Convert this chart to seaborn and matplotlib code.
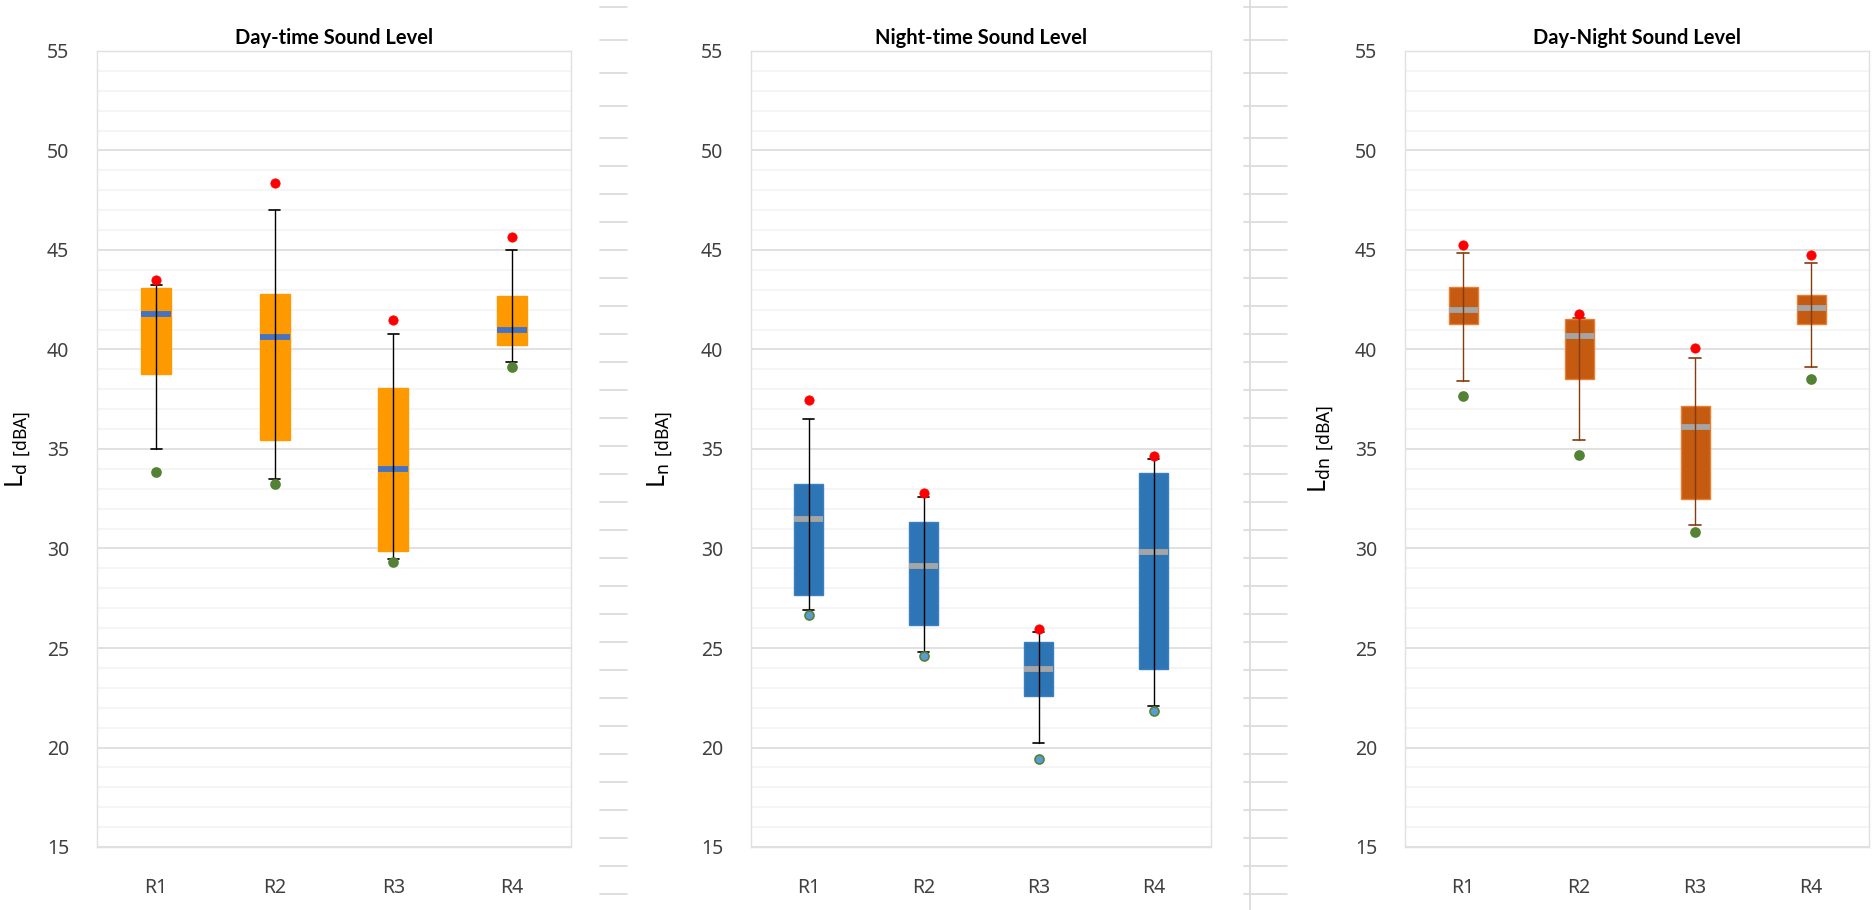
import numpy as np
import matplotlib.pyplot as plt
import seaborn as sns
from matplotlib.lines import Line2D
from matplotlib.ticker import MultipleLocator

# ==========================================
# Data (dBA)
# ==========================================
sites = ['R1', 'R2', 'R3', 'R4']

# Day-time sound level, Ld
ld_q1 = [38.78, 35.47, 29.88, 40.23]
ld_med = [41.78, 40.62, 34.00, 40.97]
ld_q3 = [43.08, 42.78, 38.07, 42.68]
ld_wlo = [35.00, 33.47, 29.45, 39.38]
ld_whi = [43.25, 47.02, 40.78, 45.00]
ld_max = [43.50, 48.38, 41.50, 45.65]
ld_min = [33.85, 33.22, 29.32, 39.12]

# Night-time sound level, Ln
ln_q1 = [27.68, 26.16, 22.60, 23.94]
ln_med = [31.48, 29.10, 23.94, 29.83]
ln_q3 = [33.22, 31.33, 25.30, 33.77]
ln_wlo = [26.90, 24.80, 20.22, 22.10]
ln_whi = [36.50, 32.60, 25.80, 34.50]
ln_max = [37.45, 32.78, 25.96, 34.67]
ln_min = [26.65, 24.60, 19.43, 21.85]

# Day-night sound level, Ldn
ldn_q1 = [41.26, 38.50, 32.50, 41.26]
ldn_med = [42.00, 40.70, 36.13, 42.07]
ldn_q3 = [43.13, 41.55, 37.16, 42.72]
ldn_wlo = [38.42, 35.45, 31.18, 39.10]
ldn_whi = [44.83, 41.60, 39.55, 44.34]
ldn_max = [45.27, 41.80, 40.08, 44.73]
ldn_min = [37.68, 34.72, 30.84, 38.52]

panels = [
    dict(title='Day-time Sound Level', sub='d',
         q1=ld_q1, med=ld_med, q3=ld_q3, wlo=ld_wlo, whi=ld_whi, mx=ld_max, mn=ld_min,
         box='#FF9900', edge='#FF9900', median='#4472C4', whisker='#000000',
         min_face='#548235', min_edge='#548235',
         rect=(97, 571), label_x=-0.135),
    dict(title='Night-time Sound Level', sub='n',
         q1=ln_q1, med=ln_med, q3=ln_q3, wlo=ln_wlo, whi=ln_whi, mx=ln_max, mn=ln_min,
         box='#2E75B6', edge='#3A80C0', median='#A5A5A5', whisker='#000000',
         min_face='#5B9BD5', min_edge='#548235',
         rect=(751, 1211), label_x=-0.165),
    dict(title='Day-Night Sound Level', sub='dn',
         q1=ldn_q1, med=ldn_med, q3=ldn_q3, wlo=ldn_wlo, whi=ldn_whi, mx=ldn_max, mn=ldn_min,
         box='#C55A11', edge='#ED7D31', median='#A5A5A5', whisker='#843C0C',
         min_face='#548235', min_edge='#548235',
         rect=(1405, 1869), label_x=-0.148),
]

# ==========================================
# Figure
# ==========================================
sns.set_style('white')
plt.rcParams['font.family'] = ['Noto Sans', 'DejaVu Sans']
plt.rcParams['mathtext.fontset'] = 'custom'
plt.rcParams['mathtext.rm'] = 'Noto Sans'

W, H = 1873, 910
fig = plt.figure(figsize=(W / 100, H / 100), dpi=100)
fig.patch.set_facecolor('white')

# spreadsheet cell lines showing between the charts
row_lines = [7, 40, 73, 106, 138] + list(range(166, 900, 28))
for y in row_lines:
    fig.add_artist(Line2D([600 / W, 627 / W], [1 - y / H] * 2, color='#d9d9d9', lw=1.2,
                          transform=fig.transFigure))
    fig.add_artist(Line2D([1244 / W, 1287 / W], [1 - y / H] * 2, color='#d9d9d9', lw=1.2,
                          transform=fig.transFigure))
fig.add_artist(Line2D([1250 / W, 1250 / W], [0, 1], color='#d9d9d9', lw=1.2,
                      transform=fig.transFigure))

top, bottom = 51, 847
positions = np.arange(len(sites))

for p in panels:
    x0, x1 = p['rect']
    ax = fig.add_axes([x0 / W, 1 - bottom / H, (x1 - x0) / W, (bottom - top) / H])

    stats = [dict(q1=a, med=b, q3=c, whislo=d, whishi=e, fliers=[])
             for a, b, c, d, e in zip(p['q1'], p['med'], p['q3'], p['wlo'], p['whi'])]
    ax.bxp(stats, positions=positions, widths=0.25, patch_artist=True, showfliers=False,
           manage_ticks=False, capwidths=0.095,
           boxprops=dict(facecolor=p['box'], edgecolor=p['edge'], linewidth=1),
           medianprops=dict(color=p['median'], linewidth=4.2, solid_capstyle='butt'),
           whiskerprops=dict(color=p['whisker'], linewidth=1),
           capprops=dict(color=p['whisker'], linewidth=1.2))
    # whisker line continues through the box
    ax.vlines(positions, p['q1'], p['q3'], color=p['whisker'], linewidth=1, zorder=3)

    sns.scatterplot(x=positions, y=p['mx'], color='#FF0000', edgecolor='#FF0000',
                    s=45, ax=ax, zorder=5, legend=False)
    sns.scatterplot(x=positions, y=p['mn'], color=p['min_face'], edgecolor=p['min_edge'],
                    linewidth=1.2, s=42, ax=ax, zorder=5, legend=False)

    ax.set_xlim(-0.5, 3.5)
    ax.set_ylim(15, 55)
    ax.set_xticks(positions)
    ax.set_xticklabels(sites)
    ax.yaxis.set_major_locator(MultipleLocator(5))
    ax.yaxis.set_minor_locator(MultipleLocator(1))
    ax.grid(which='major', axis='y', color='#d9d9d9', linewidth=1.1)
    ax.grid(which='minor', axis='y', color='#f2f2f2', linewidth=1.1)
    ax.set_axisbelow(True)
    for s in ax.spines.values():
        s.set_color('#e0e0e0')
        s.set_linewidth(1)
    ax.tick_params(axis='both', which='both', length=0, labelsize=14, labelcolor='#404040')
    ax.tick_params(axis='y', pad=20)
    ax.tick_params(axis='x', pad=22)

    ax.set_title(p['title'], fontsize=14.5, fontweight='bold', color='#000000', pad=5,
                 family=['Lato', 'DejaVu Sans'])
    ax.set_ylabel(r'$\mathregular{L_{%s}\;{}_{[dBA]}}$' % p['sub'], fontsize=18, color='#000000')
    ax.yaxis.set_label_coords(p['label_x'], 0.5)

fig.savefig('out.png', dpi=100, facecolor='white')
